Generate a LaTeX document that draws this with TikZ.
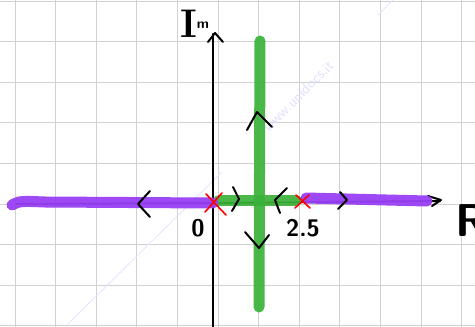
\documentclass[tikz,border=0pt]{standalone}
\usepackage{tikz}
\definecolor{rlpurple}{RGB}{152,64,245}
\definecolor{rlgreen}{RGB}{58,178,58}

\begin{document}
\begin{tikzpicture}[x=1pt,y=-1pt,
  pen/.style={line width=2pt, line cap=round, line join=round},
  locus/.style={line width=11pt, line cap=round},
  pole/.style={red, line width=1.6pt, line cap=round},
  lbl/.style={inner sep=0pt, font=\sffamily}]
  \useasboundingbox (0,0) rectangle (475,327);
  \fill[white] (0,0) rectangle (475,327);
  % grid
  \foreach \i in {0,...,11}
    \draw[black!18, line width=0.9pt] ({15+40.6*\i},0) -- ({15+40.6*\i},327);
  \foreach \j in {0,...,8}
    \draw[black!18, line width=0.9pt] (0,{1+40.6*\j}) -- (475,{1+40.6*\j});
  % watermark
  \draw[blue!10, line width=0.8pt] (67,325) -- (222,172);
  \draw[blue!10, line width=0.8pt] (378,15) -- (393,0);
  \node[lbl, text=blue!12, rotate=45, font=\sffamily\fontsize{15}{15}\selectfont] (wm) at (298,96) {www.unidocs.it};
  % points
  \coordinate (O) at (213,203);
  \coordinate (P) at (302,201);
  \coordinate (top) at (213,34);
  \coordinate (bot) at (213,327);
  \coordinate (left) at (16,204);
  \coordinate (right) at (440,201);
  % axes
  \draw[pen, line width=2.4pt] (bot) -- (top);
  \draw[pen] (208,42) -- (215,33) -- (223,42);
  \draw[pen] (left) -- (O) -- (right);
  \draw[pen] (428,196) -- (441,200) -- (432,206);
  % loci
  \draw[locus, rlgreen, opacity=0.92] (219,200) -- (296,200);
  \draw[locus, rlgreen, opacity=0.92] (260,41) -- (259,307);
  \draw[locus, rlpurple, opacity=0.95] (12,205) .. controls (20,201) .. (45,202) -- (O);
  \draw[locus, rlpurple, opacity=0.95] (306,198) -- (427,201);
  % poles
  \draw[pole] (206,194) -- (226,215) (222,193) -- (205,212);
  \draw[pole] (296,195) -- (310,208) (309,195) -- (295,208);
  % direction marks
  \draw[pen] (150,191) -- (138,204) -- (150,217);
  \draw[pen] (233,187) -- (239,199) -- (232,211);
  \draw[pen] (287,188) -- (275,200) -- (280,213);
  \draw[pen] (340,192) -- (347,200) -- (338,209);
  \draw[pen] (247,130) -- (257,112) -- (272,127);
  \draw[pen] (245,232) -- (259,248) -- (269,235);
  % labels
  \node[lbl, font=\sffamily\bfseries\fontsize{24}{24}\selectfont] (zero) at (198,228) {0};
  \node[lbl, font=\sffamily\bfseries\fontsize{24}{24}\selectfont] (num) at (303,228) {2.5};
  \node[lbl, anchor=south west, font=\rmfamily\bfseries\fontsize{40}{40}\selectfont] (im) at (180,38) {I\raisebox{9pt}{\sffamily\fontsize{14}{14}\selectfont m}};
  \node[lbl, anchor=north west, font=\sffamily\bfseries\fontsize{46}{46}\selectfont] (re) at (455,204) {Re};
\end{tikzpicture}
\end{document}
